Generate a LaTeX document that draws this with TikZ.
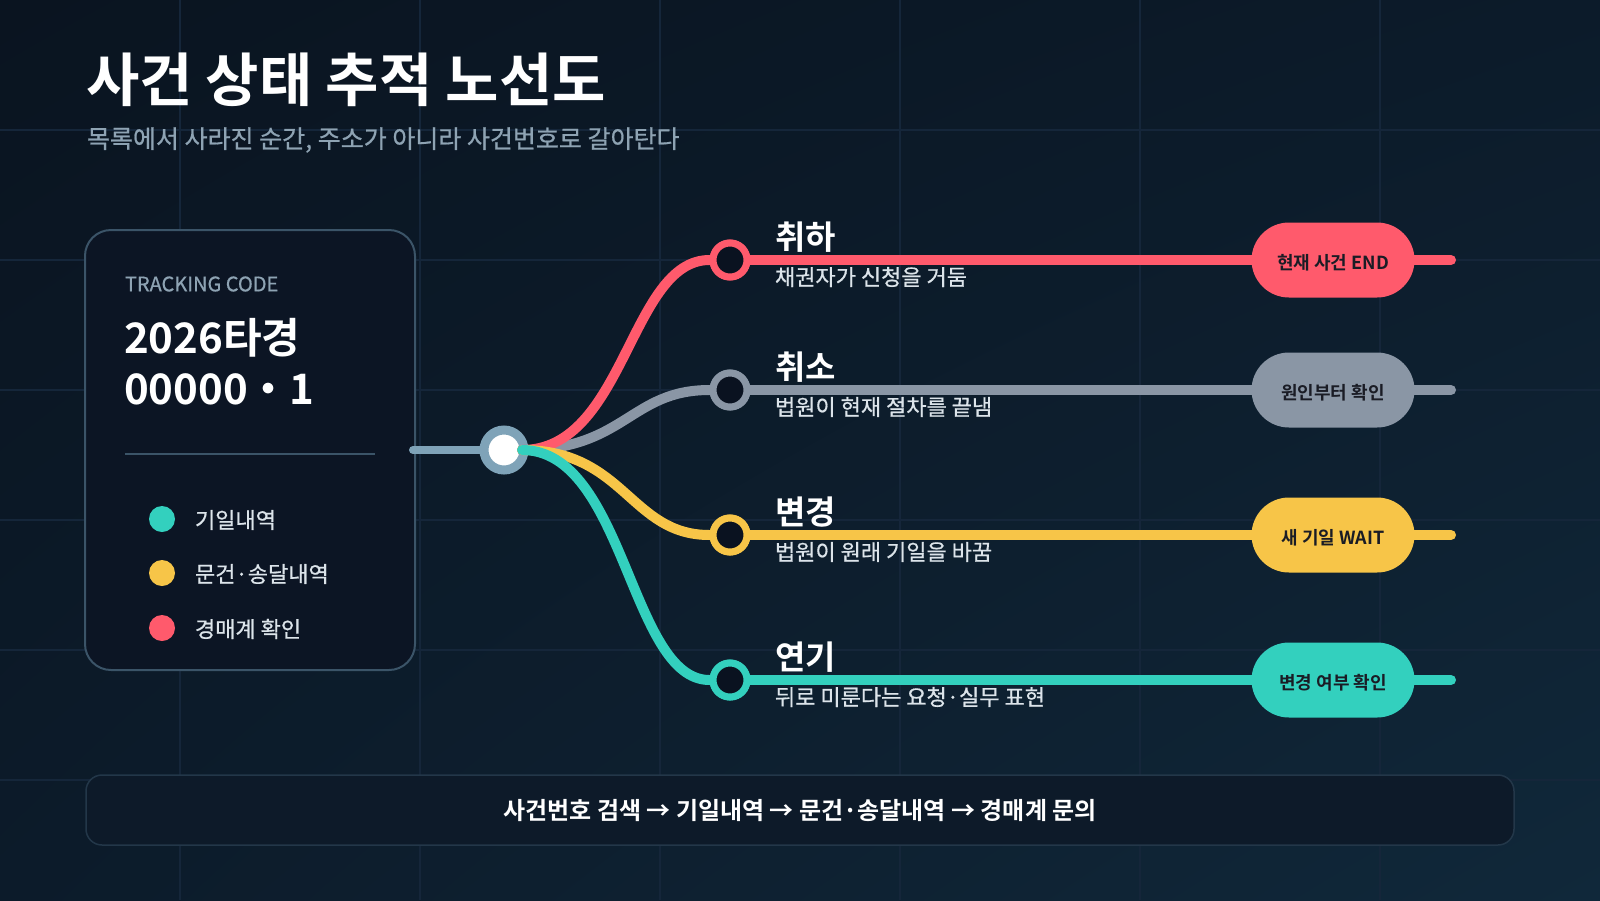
\documentclass[tikz,border=0pt]{standalone}
\usepackage{fontspec}
\setmainfont{Noto Sans CJK KR}[BoldFont={Noto Sans CJK KR Bold}]
\newfontfamily\medfont{Noto Sans CJK KR}[FakeBold=0.7]
\usetikzlibrary{shapes.misc,shadings}
\definecolor{bgA}{HTML}{0A1420}
\definecolor{bgB}{HTML}{0C1B2A}
\definecolor{bgC}{HTML}{10283A}
\definecolor{gridc}{HTML}{15263A}
\definecolor{cardfill}{HTML}{0C1524}
\definecolor{cardline}{HTML}{3B5468}
\definecolor{hubc}{HTML}{7FA3B8}
\definecolor{cred}{HTML}{FF5A6C}
\definecolor{cgrey}{HTML}{8A96A5}
\definecolor{cyellow}{HTML}{F7C548}
\definecolor{cteal}{HTML}{33D0BE}
\definecolor{stdark}{HTML}{0A1220}
\definecolor{subc}{HTML}{8EA3B3}
\definecolor{lightc}{HTML}{DCE4EA}
\definecolor{pilltext}{HTML}{1A1C25}
\definecolor{boxfill}{HTML}{0D1A29}
\definecolor{boxline}{HTML}{233749}
\newcommand\myfs[1]{\fontsize{#1}{#1}\selectfont}
\tikzset{
  gridline/.style={draw=gridc, line width=1.5pt},
  txt/.style={anchor=west, inner sep=0pt, outer sep=0pt},
  branch/.style={line width=10pt, line cap=round},
  station/.style={circle, draw=#1, line width=7pt, fill=stdark, minimum size=34pt, inner sep=0pt},
  pill/.style={rounded rectangle, fill=#1, minimum width=163pt, minimum height=75pt, inner sep=0pt},
  pilllabel/.style={inner sep=0pt, font=\bfseries\myfs{18}, text=pilltext},
  sttitle/.style={txt, font=\bfseries\myfs{33}, text=white},
  stsub/.style={txt, font=\medfont\myfs{22}, text=lightc},
  legdot/.style={circle, fill=#1, minimum size=26pt, inner sep=0pt},
  legtxt/.style={txt, font=\medfont\myfs{22}, text=lightc},
}
\begin{document}
\begin{tikzpicture}[x=1pt,y=-1pt]
\useasboundingbox (0,0) rectangle (1600,900);
\shade[upper left=bgA, upper right=bgB, lower left=bgB, lower right=bgC] (0,0) rectangle (1600,900);
\foreach \gx in {180,420,660,900,1140,1380} \draw[gridline] (\gx,0) -- (\gx,900);
\foreach \gy in {130,260,390,520,650,780} \draw[gridline] (0,\gy) -- (1600,\gy);

% title
\node[txt, font=\bfseries\myfs{58}, text=white] (title) at (86,80) {사건 상태 추적 노선도};
\node[txt, font=\medfont\myfs{25}, text=subc] (subtitle) at (87,140) {목록에서 사라진 순간, 주소가 아니라 사건번호로 갈아탄다};

% card
\node[draw=cardline, fill=cardfill, line width=2pt, rounded corners=26pt,
  minimum width=330pt, minimum height=440pt, inner sep=0pt] (card) at (250,450) {};
\node[txt, font=\medfont\myfs{20}, text=subc] (tc) at (125,284) {TRACKING CODE};
\node[txt, font=\bfseries\myfs{42}, text=white] (code1) at (124,338) {2026타경};
\node[txt, font=\bfseries\myfs{42}, text=white] (code2) at (124,389) {00000・1};
\draw[draw=cardline, line width=2pt] (125,454) coordinate (dv1) -- (375,454) coordinate (dv2);
\node[legdot=cteal] (d1) at (162,519) {};
\node[legdot=cyellow] (d2) at (162,573) {};
\node[legdot=cred] (d3) at (162,628) {};
\node[legtxt] (l1) at (195,520) {기일내역};
\node[legtxt] (l2) at (195,574) {문건·송달내역};
\node[legtxt] (l3) at (195,629) {경매계 확인};

% hub
\coordinate (cardR) at (413,450);
\node[circle, draw=hubc, line width=9pt, fill=white, minimum size=40pt, inner sep=0pt] (hub) at (504,450) {};
\draw[draw=hubc, line width=8pt, line cap=round] (cardR) -- (hub.west);

% stations
\node[station=cred] (s1) at (730,260) {};
\node[station=cgrey] (s2) at (730,390) {};
\node[station=cyellow] (s3) at (730,535) {};
\node[station=cteal] (s4) at (730,680) {};
\coordinate (e1) at (1451,260);
\coordinate (e2) at (1451,390);
\coordinate (e3) at (1451,535);
\coordinate (e4) at (1451,680);
\coordinate (hs) at (522,450);

% branches
\draw[branch, draw=cgrey] (hs) .. controls (625,450) and (630,390) .. (s2.west);
\draw[branch, draw=cred] (hs) .. controls (625,450) and (630,260) .. (s1.west);
\draw[branch, draw=cyellow] (hs) .. controls (625,450) and (630,535) .. (s3.west);
\draw[branch, draw=cteal] (hs) .. controls (625,450) and (630,680) .. (s4.west);
\draw[branch, draw=cred] (s1.east) -- (e1);
\draw[branch, draw=cgrey] (s2.east) -- (e2);
\draw[branch, draw=cyellow] (s3.east) -- (e3);
\draw[branch, draw=cteal] (s4.east) -- (e4);
\node[station=cred] at (s1) {};
\node[station=cgrey] at (s2) {};
\node[station=cyellow] at (s3) {};
\node[station=cteal] at (s4) {};

% station labels
\node[sttitle] (t1) at (775,237) {취하};
\node[stsub] (u1) at (775,277) {채권자가 신청을 거둠};
\node[sttitle] (t2) at (775,367) {취소};
\node[stsub] (u2) at (775,407) {법원이 현재 절차를 끝냄};
\node[sttitle] (t3) at (775,512) {변경};
\node[stsub] (u3) at (775,552) {법원이 원래 기일을 바꿈};
\node[sttitle] (t4) at (775,657) {연기};
\node[stsub] (u4) at (775,697) {뒤로 미룬다는 요청·실무 표현};

% pills
\node[pill=cred] (p1) at (1333,260) {};
\node[pill=cgrey] (p2) at (1333,390) {};
\node[pill=cyellow] (p3) at (1333,535) {};
\node[pill=cteal] (p4) at (1333,680) {};
\node[pilllabel] (q1) at ([yshift=-3pt]p1.center) {현재 사건 END};
\node[pilllabel] (q2) at ([yshift=-3pt]p2.center) {원인부터 확인};
\node[pilllabel] (q3) at ([yshift=-3pt]p3.center) {새 기일 WAIT};
\node[pilllabel] (q4) at ([yshift=-3pt]p4.center) {변경 여부 확인};

% bottom bar
\node[draw=boxline, fill=boxfill, line width=1.5pt, rounded corners=16pt,
  minimum width=1428pt, minimum height=70pt, inner sep=0pt,
  font=\bfseries\myfs{24}, text=white] (bar) at (800,810)
  {사건번호 검색 → 기일내역 → 문건·송달내역 → 경매계 문의};
\end{tikzpicture}
\end{document}
